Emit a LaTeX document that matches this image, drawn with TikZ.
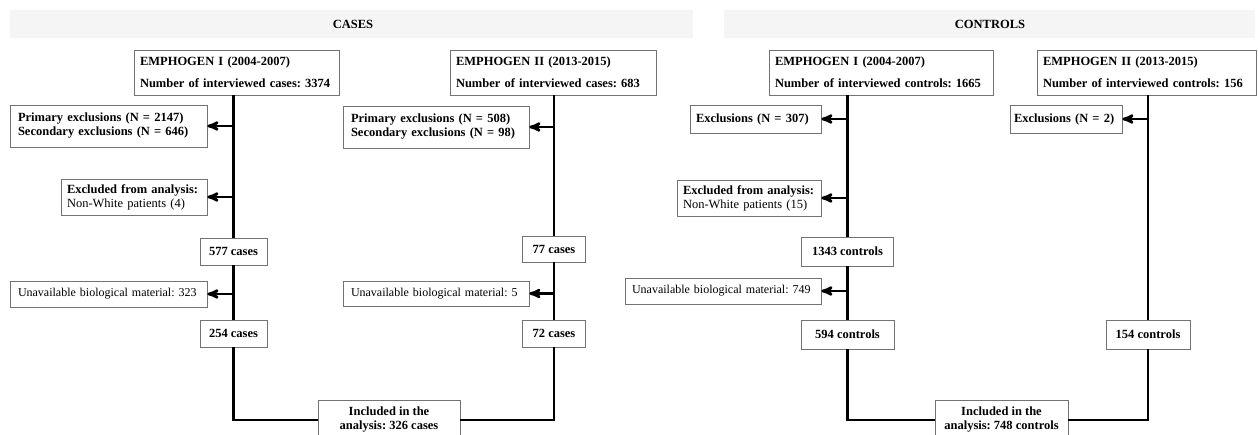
\documentclass[tikz,border=0pt]{standalone}
\usepackage{fontspec}
\setmainfont{Liberation Serif}
\usepackage{tikz}
\usetikzlibrary{arrows}
\frenchspacing
\hyphenpenalty=10000
\exhyphenpenalty=10000
\tikzstyle{box}=[draw=black!55,line width=0.7pt,fill=white,inner sep=0pt,font=\fontsize{12.5}{14}\selectfont\bfseries]
\tikzstyle{lbox}=[box,align=left]
\tikzstyle{rbox}=[lbox,font=\fontsize{12}{14}\selectfont]
\tikzstyle{band}=[fill=black!4]
\tikzstyle{spine}=[line width=2.6pt]
\tikzstyle{branch}=[spine,->,>=stealth']

\begin{document}
\begin{tikzpicture}[x=1pt,y=-1pt]
  \useasboundingbox (0,0) rectangle (1258,435);
  % title bands
  \fill[band] (10,10) rectangle (693,38);
  \fill[band] (724,10) rectangle (1255,38);
  \node[font=\fontsize{12.5}{14}\selectfont\bfseries] (tcases) at (353,24) {CASES};
  \node[font=\fontsize{12.5}{14}\selectfont\bfseries] (tcontrols) at (990,24) {CONTROLS};

  % cases
  \node[lbox,minimum width=205,minimum height=45,text width=193] (e1c) at (236.5,72.5)
    {EMPHOGEN I (2004-2007)\\[8pt]Number of interviewed cases: 3374};
  \node[lbox,minimum width=197,minimum height=42,text width=181] (p1) at (108.5,126)
    {Primary exclusions (N = 2147)\\Secondary exclusions (N = 646)};
  \node[lbox,minimum width=146,minimum height=36,text width=134] (x1) at (134,197)
    {Excluded from analysis:\\\mdseries Non-White patients (4)};
  \node[box,minimum width=67,minimum height=27] (n577) at (233.5,251.5) {577 cases};
  \node[rbox,minimum width=197,minimum height=26,text width=181] (u323) at (108.5,294)
    {Unavailable biological material: 323};
  \node[box,minimum width=67,minimum height=27] (n254) at (233.5,333.5) {254 cases};

  \node[lbox,minimum width=206,minimum height=45,text width=194] (e2c) at (553,72.5)
    {EMPHOGEN II (2013-2015)\\[8pt]Number of interviewed cases: 683};
  \node[lbox,minimum width=186,minimum height=42,text width=170] (p2) at (436,127)
    {Primary exclusions (N = 508)\\Secondary exclusions (N = 98)};
  \node[box,minimum width=63,minimum height=26] (n77) at (554,249) {77 cases};
  \node[rbox,minimum width=186,minimum height=25,text width=170] (u5) at (436,293.5)
    {Unavailable biological material: 5};
  \node[box,minimum width=63,minimum height=27] (n72) at (554,333.5) {72 cases};

  \node[box,minimum width=142,minimum height=40,align=center] (incc) at (389,420)
    {Included in the\\analysis: 326 cases};

  % controls
  \node[lbox,minimum width=224,minimum height=45,text width=212] (e1k) at (881,72.5)
    {EMPHOGEN I (2004-2007)\\[8pt]Number of interviewed controls: 1665};
  \node[lbox,minimum width=131,minimum height=28,text width=119] (ex307) at (755.5,119)
    {Exclusions (N = 307)};
  \node[lbox,minimum width=144,minimum height=36,text width=132] (x15) at (749,198)
    {Excluded from analysis:\\\mdseries Non-White patients (15)};
  \node[box,minimum width=92,minimum height=29] (n1343) at (847.5,251.5) {1343 controls};
  \node[rbox,minimum width=196,minimum height=26,text width=182] (u749) at (723,291)
    {Unavailable biological material: 749};
  \node[box,minimum width=93,minimum height=29] (n594) at (847.5,334.5) {594 controls};

  \node[lbox,minimum width=219,minimum height=45,text width=207] (e2k) at (1146.5,72.5)
    {EMPHOGEN II (2013-2015)\\[8pt]Number of interviewed controls: 156};
  \node[lbox,minimum width=112,minimum height=28,text width=104] (ex2) at (1066,119)
    {Exclusions (N = 2)};
  \node[box,minimum width=84,minimum height=29] (n154) at (1148,334.5) {154 controls};

  \node[box,minimum width=133,minimum height=40,align=center] (inck) at (1001.5,420)
    {Included in the\\analysis: 748 controls};

  % spines
  \draw[spine] (e1c.south -| n577) -- (n577) -- (n254) |- (incc.west);
  \draw[spine] (e2c.south -| n77) -- (n77) -- (n72) |- (incc.east);
  \draw[spine] (e1k.south -| n1343) -- (n1343) -- (n594) |- (inck.west);
  \draw[spine] (e2k.south -| n154) -- (n154) |- (inck.east);

  % exclusions
  \draw[branch] (p1.east -| n577) -- (p1.east);
  \draw[branch] (x1.east -| n577) -- (x1.east);
  \draw[branch] (u323.east -| n577) -- (u323.east);
  \draw[branch] (p2.east -| n77) -- (p2.east);
  \draw[branch] (u5.east -| n77) -- (u5.east);
  \draw[branch] (ex307.east -| n1343) -- (ex307.east);
  \draw[branch] (x15.east -| n1343) -- (x15.east);
  \draw[branch] (u749.east -| n1343) -- (u749.east);
  \draw[branch] (ex2.east -| n154) -- (ex2.east);
\end{tikzpicture}
\end{document}
